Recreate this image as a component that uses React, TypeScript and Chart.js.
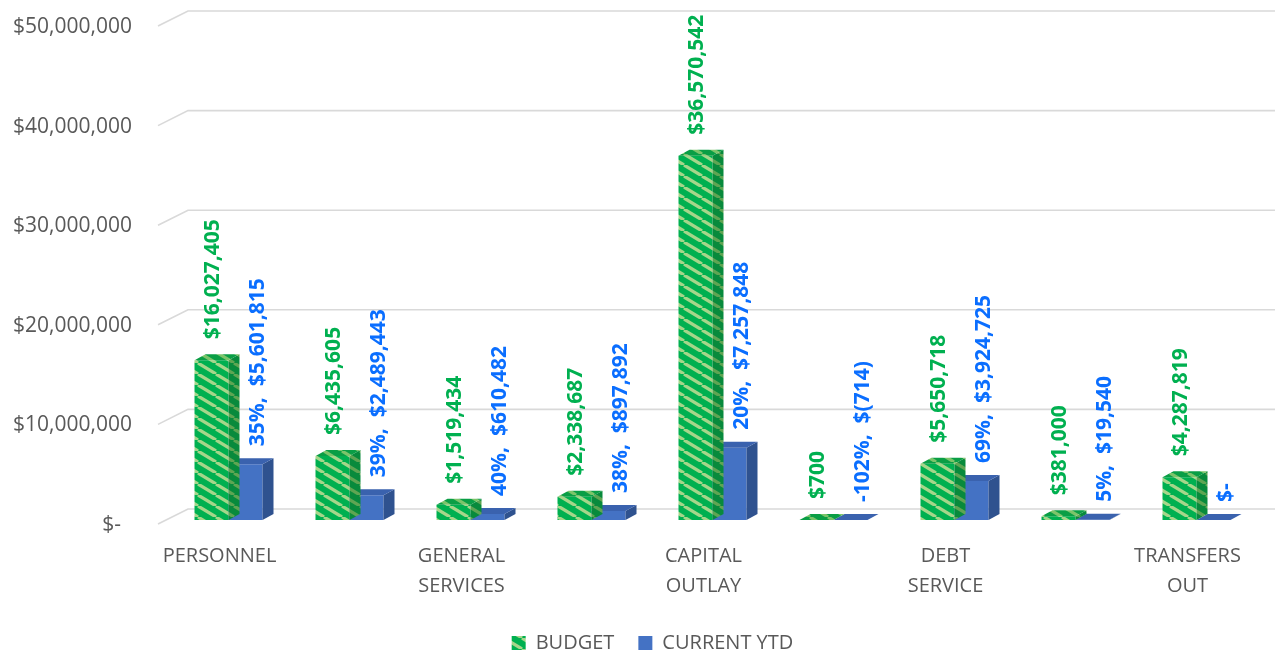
import React, { useEffect, useRef } from "react";
import { Chart, registerables } from "chart.js";

Chart.register(...registerables);

// ---- data ----
const categories: (string | string[])[] = [
  ["PERSONNEL"],
  "",
  ["GENERAL", "SERVICES"],
  "",
  ["CAPITAL", "OUTLAY"],
  "",
  ["DEBT", "SERVICE"],
  "",
  ["TRANSFERS", "OUT"],
];
const seriesNames = ["BUDGET", "CURRENT YTD"];
const budget = [16027405, 6435605, 1519434, 2338687, 36570542, 700, 5650718, 381000, 4287819];
const currentYtd = [5601815, 2489443, 610482, 897892, 7257848, -714, 3924725, 19540, 0];
const percentOfBudget: (number | null)[] = [35, 39, 40, 38, 20, -102, 69, 5, null];
const yMin = 0;
const yMax = 50000000;
const yStep = 10000000;

// ---- styling constants ----
const FONT = "'Open Sans', 'Noto Sans', 'Liberation Sans', sans-serif";
const AXIS_COLOR = "#595959";
const GRID_COLOR = "#D9D9D9";
const GREEN_TEXT = "#00B050";
const BLUE_TEXT = "#0A6EFF";
const DX = 11;
const DY = -6;
const LEGEND_PAD = 24;
const LAYOUT_BOTTOM = -9;
const CANVAS_W = 1275;
const CANVAS_H = 654;
const PLOT_BOTTOM = 520;
const LEGEND_SHIFT = 24;

const withCommas = (n: number) => Math.round(n).toString().replace(/\B(?=(\d{3})+(?!\d))/g, ",");
const money = (v: number) => (v === 0 ? "$-" : v < 0 ? "$(" + withCommas(-v) + ")" : "$" + withCommas(v));

function stripePattern(bg: string, fg: string, w = 18, h = 11, lw = 3.2) {
  const c = document.createElement("canvas");
  c.width = w;
  c.height = h;
  const g = c.getContext("2d")!;
  g.fillStyle = bg;
  g.fillRect(0, 0, w, h);
  g.strokeStyle = fg;
  g.lineWidth = lw;
  for (const o of [-w, 0, w]) {
    g.beginPath();
    g.moveTo(o, 0);
    g.lineTo(o + w, h);
    g.stroke();
  }
  return g.createPattern(c, "repeat")!;
}

export default function App() {
  const ref = useRef<HTMLCanvasElement | null>(null);

  useEffect(() => {
    const canvas = ref.current;
    if (!canvas) return;

    const greenFront = stripePattern("#00B050", "#A6D68A");
    const greenSide = stripePattern("#088A3C", "#5FA553");
    const greenTop = stripePattern("#0A9E45", "#7CC46A");

    const faces = [
      { side: greenSide as any, top: greenTop as any },
      { side: "#2F528F" as any, top: "#3A62AE" as any },
    ];

    const gridPlugin = {
      id: "grid3d",
      afterLayout(chart: any) {
        if (chart.legend) {
          chart.legend.left += LEGEND_SHIFT;
          chart.legend.right += LEGEND_SHIFT;
        }
      },
      beforeDatasetsDraw(chart: any) {
        const { ctx, chartArea } = chart;
        const y = chart.scales.y;
        ctx.save();
        ctx.strokeStyle = GRID_COLOR;
        ctx.lineWidth = 1.6;
        for (let v = yMin; v <= yMax; v += yStep) {
          const yf = y.getPixelForValue(v);
          const back = yf - 11;
          ctx.beginPath();
          ctx.moveTo(chartArea.left - 10, yf + 4);
          ctx.lineTo(chartArea.left + 20, back);
          ctx.lineTo(CANVAS_W, back);
          ctx.stroke();
        }
        ctx.restore();
      },
    };

    const depthPlugin = {
      id: "depth3d",
      afterDatasetDraw(chart: any, args: any) {
        const { ctx } = chart;
        const st = faces[args.index];
        ctx.save();
        args.meta.data.forEach((el: any) => {
          const p = el.getProps(["x", "y", "base", "width"], true);
          const l = p.x - p.width / 2;
          const r = p.x + p.width / 2;
          const t = Math.min(p.y, p.base);
          const b = Math.max(p.y, p.base);
          ctx.fillStyle = st.side;
          ctx.beginPath();
          ctx.moveTo(r, t);
          ctx.lineTo(r + DX, t + DY);
          ctx.lineTo(r + DX, b + DY);
          ctx.lineTo(r, b);
          ctx.closePath();
          ctx.fill();
          ctx.fillStyle = st.top;
          ctx.beginPath();
          ctx.moveTo(l, t);
          ctx.lineTo(l + DX, t + DY);
          ctx.lineTo(r + DX, t + DY);
          ctx.lineTo(r, t);
          ctx.closePath();
          ctx.fill();
        });
        ctx.restore();
      },
    };

    const labelPlugin = {
      id: "valueLabels",
      afterDatasetsDraw(chart: any) {
        const { ctx } = chart;
        ctx.save();
        ctx.font = `bold 21px ${FONT}`;
        ctx.textAlign = "left";
        ctx.textBaseline = "middle";
        chart.data.datasets.forEach((ds: any, di: number) => {
          const meta = chart.getDatasetMeta(di);
          meta.data.forEach((el: any, i: number) => {
            const p = el.getProps(["x", "y", "base"], true);
            const t = Math.min(p.y, p.base);
            let text: string;
            let x: number;
            let yb: number;
            if (di === 0) {
              text = money(ds.data[i]);
              x = p.x + 2;
              yb = t - 21;
              ctx.fillStyle = GREEN_TEXT;
            } else {
              const pct = percentOfBudget[i];
              text = (pct === null ? "" : pct + "%,  ") + money(ds.data[i]);
              x = p.x + 13;
              yb = t - 18;
              ctx.fillStyle = BLUE_TEXT;
            }
            ctx.save();
            ctx.translate(x, yb);
            ctx.rotate(-Math.PI / 2);
            ctx.fillText(text, 0, 0);
            ctx.restore();
          });
        });
        ctx.restore();
      },
    };

    const legendHeight = 20 + LEGEND_PAD + 10;
    const xAxisHeight = CANVAS_H - LAYOUT_BOTTOM - legendHeight - PLOT_BOTTOM;

    const chart = new Chart(canvas, {
      type: "bar",
      data: {
        labels: categories,
        datasets: [
          {
            label: seriesNames[0],
            data: budget,
            backgroundColor: greenFront as any,
            borderWidth: 0,
            categoryPercentage: 68 / 121,
            barPercentage: 1,
          },
          {
            label: seriesNames[1],
            data: currentYtd,
            backgroundColor: "#4472C4",
            borderWidth: 0,
            categoryPercentage: 68 / 121,
            barPercentage: 1,
          },
        ],
      },
      options: {
        responsive: false,
        maintainAspectRatio: false,
        animation: false,
        events: [],
        layout: { padding: { left: 0, right: 18, top: 22, bottom: LAYOUT_BOTTOM } },
        plugins: {
          tooltip: { enabled: false },
          legend: {
            display: true,
            position: "bottom",
            labels: {
              font: { family: FONT, size: 20 },
              color: AXIS_COLOR,
              boxWidth: 14,
              boxHeight: 14,
              padding: LEGEND_PAD,
            },
          },
        },
        scales: {
          x: {
            grid: { display: false, drawTicks: false },
            border: { display: false },
            ticks: {
              autoSkip: false,
              maxRotation: 0,
              minRotation: 0,
              padding: 21,
              labelOffset: -9,
              color: AXIS_COLOR,
              font: { family: FONT, size: 20, lineHeight: 1.5 },
            },
            afterFit: (scale: any) => {
              scale.height = xAxisHeight;
            },
          },
          y: {
            min: yMin,
            max: yMax,
            grid: { display: false, drawTicks: false },
            border: { display: false },
            ticks: {
              stepSize: yStep,
              padding: 36,
              labelOffset: 5,
              color: AXIS_COLOR,
              font: { family: FONT, size: 21 },
              callback: (v: any) => (Number(v) === 0 ? "$-  " : money(Number(v))),
            },
            afterFit: (scale: any) => {
              scale.width = 168;
              scale.paddingTop = 12;
              scale.paddingBottom = 12;
            },
          },
        },
      },
      plugins: [gridPlugin, depthPlugin, labelPlugin],
    });

    return () => chart.destroy();
  }, []);

  return (
    <div style={{ position: "fixed", left: 0, top: 0, width: CANVAS_W, height: CANVAS_H, background: "#fff" }}>
      <canvas ref={ref} width={CANVAS_W} height={CANVAS_H} />
    </div>
  );
}
